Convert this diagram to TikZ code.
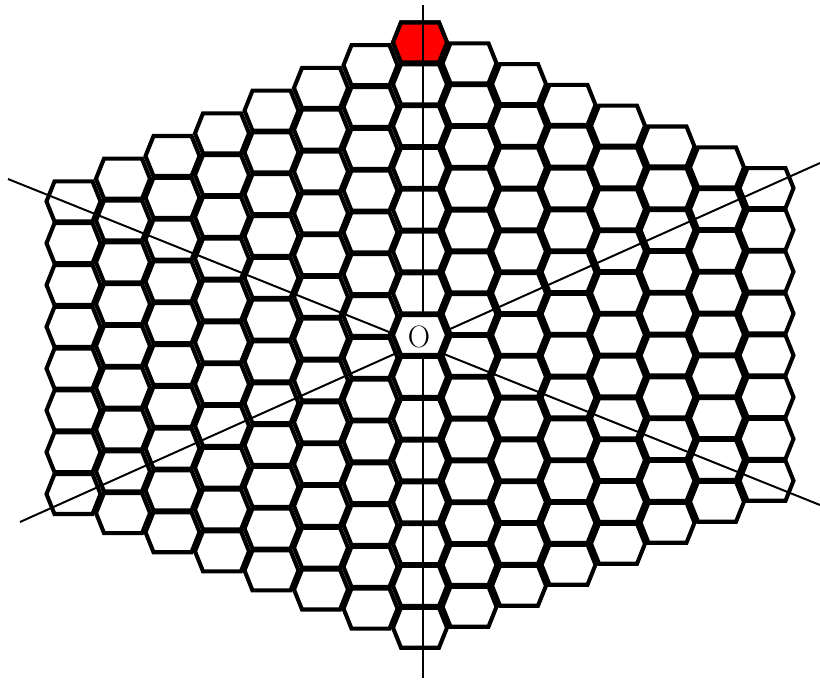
\documentclass[tikz,border=0pt]{standalone}
\usepackage{tikz}
\usetikzlibrary{positioning}
\tikzset{
  hexline/.style={line width=2.9pt},
  axisline/.style={line width=1.4pt},
  hexcell/.pic={\draw[hexline,pic actions] (-27,0) -- (-19,-20) -- (19,-20) -- (27,0) -- (19,20) -- (-19,20) -- cycle;}
}
\begin{document}
\begin{tikzpicture}[x=0.025cm,y=-0.025cm]
\useasboundingbox (0,0) rectangle (820,679);
% honeycomb, 15 columns
\foreach \k in {-7,...,7}{
  \pgfmathtruncatemacro\n{14-abs(\k)}
  \pgfmathsetmacro\s{\k<0 ? 22.7 : 20.8}
  \foreach \j in {0,...,\n}{
    \pic at ({420+49.5*\k},{42.5+41.8*\j+\s*abs(\k)}) {hexcell};
  }
}
\pic[fill=red] at (420,42.5) {hexcell};
% axes
\coordinate (O) at (421,343);
\coordinate (ytop) at (422.7,5);
\coordinate (ybot) at (422.7,678);
\coordinate (ul) at (8,179);
\coordinate (lr) at (820,505);
\coordinate (ll) at (20,522);
\coordinate (ur) at (820,163);
\draw[axisline] (ytop) -- (ybot);
\draw[axisline] (ul) -- (lr);
\draw[axisline] (ll) -- (ur);
\pic[fill=white] at (420,335) {hexcell};
\node[font=\fontsize{22}{24}\selectfont] (origin) at (419,337) {O};
\end{tikzpicture}
\end{document}
